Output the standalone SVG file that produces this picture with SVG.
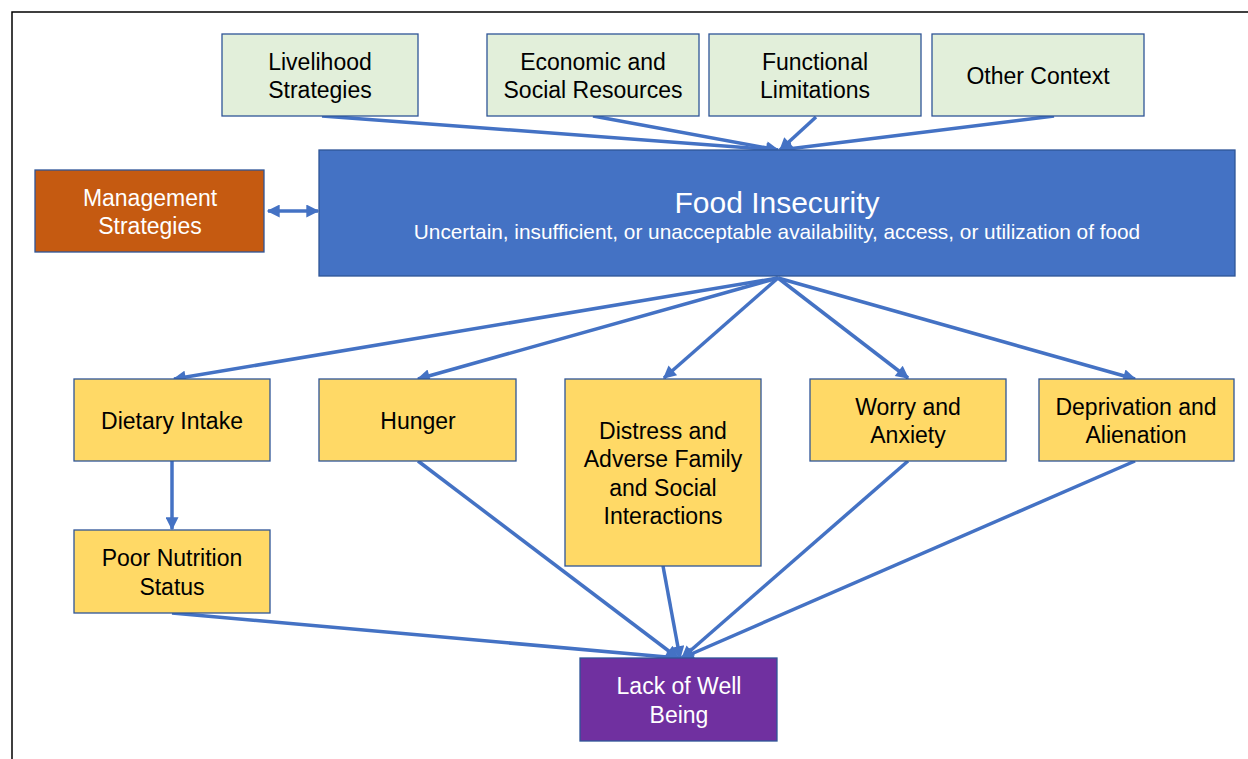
<svg xmlns="http://www.w3.org/2000/svg" width="1248" height="759" viewBox="0 0 1248 759">
  <style>
    .box { stroke: #2F5597; stroke-width: 1.3; }
    .ctx { fill: #E2EFDA; }
    .out { fill: #FFD966; }
    .lbl { font-family: "Liberation Sans", Arial, sans-serif; font-size: 23px; text-anchor: middle; fill: #000; }
    .wht { fill: #fff; }
    .title { font-size: 30px; }
    .sub { font-size: 20.8px; }
    .edge { stroke: #4472C4; stroke-width: 3.5; fill: none; }
  </style>
  <defs>
    <marker id="ah" viewBox="0 0 10 10" refX="9" refY="5" markerUnits="userSpaceOnUse" markerWidth="15" markerHeight="13" orient="auto-start-reverse">
      <path d="M0,0 L10,5 L0,10 z" fill="#4472C4"/>
    </marker>
  </defs>

  <rect width="1248" height="759" fill="#fff"/>
  <!-- page frame -->
  <path d="M12,759 L12,12 L1248,12" fill="none" stroke="#000" stroke-width="1.5"/>

  <!-- connectors -->
  <g id="connectors" class="edge" marker-end="url(#ah)">
    <line x1="322" y1="116" x2="778" y2="150"/>
    <line x1="593" y1="116" x2="778" y2="150"/>
    <line x1="816" y1="117" x2="780" y2="150"/>
    <line x1="1054" y1="116" x2="780" y2="150"/>
    <line x1="268" y1="211" x2="318" y2="211" marker-start="url(#ah)"/>
    <line x1="778" y1="278" x2="174" y2="379"/>
    <line x1="778" y1="278" x2="418" y2="379"/>
    <line x1="778" y1="278" x2="664" y2="378"/>
    <line x1="778" y1="278" x2="908" y2="378"/>
    <line x1="778" y1="278" x2="1135" y2="379"/>
    <line x1="172" y1="461" x2="172" y2="529"/>
    <line x1="172" y1="613" x2="678" y2="658"/>
    <line x1="418" y1="461" x2="678" y2="658"/>
    <line x1="663" y1="566" x2="680" y2="658"/>
    <line x1="908" y1="461" x2="682" y2="658"/>
    <line x1="1135" y1="461" x2="682" y2="658"/>
  </g>

  <g id="livelihood">
    <rect class="box ctx" x="222" y="34" width="196" height="82"/>
    <text class="lbl" x="320" y="70">Livelihood</text>
    <text class="lbl" x="320" y="98">Strategies</text>
  </g>
  <g id="economic">
    <rect class="box ctx" x="487" y="34" width="212" height="82"/>
    <text class="lbl" x="593" y="70">Economic and</text>
    <text class="lbl" x="593" y="98">Social Resources</text>
  </g>
  <g id="functional">
    <rect class="box ctx" x="709" y="34" width="212" height="82"/>
    <text class="lbl" x="815" y="70">Functional</text>
    <text class="lbl" x="815" y="98">Limitations</text>
  </g>
  <g id="other">
    <rect class="box ctx" x="932" y="34" width="212" height="82"/>
    <text class="lbl" x="1038" y="84">Other Context</text>
  </g>

  <g id="food-insecurity">
    <rect class="box" x="319" y="150" width="916" height="126" fill="#4472C4"/>
    <text class="lbl wht title" x="777" y="213">Food Insecurity</text>
    <text class="lbl wht sub" x="777" y="239">Uncertain, insufficient, or unacceptable availability, access, or utilization of food</text>
  </g>

  <g id="management">
    <rect class="box" x="35" y="170" width="229" height="82" fill="#C55A11"/>
    <text class="lbl wht" x="150" y="206">Management</text>
    <text class="lbl wht" x="150" y="234">Strategies</text>
  </g>

  <g id="dietary">
    <rect class="box out" x="74" y="379" width="196" height="82"/>
    <text class="lbl" x="172" y="429">Dietary Intake</text>
  </g>
  <g id="hunger">
    <rect class="box out" x="319" y="379" width="197" height="82"/>
    <text class="lbl" x="418" y="429">Hunger</text>
  </g>
  <g id="distress">
    <rect class="box out" x="565" y="379" width="196" height="187"/>
    <text class="lbl" x="663" y="439">Distress and</text>
    <text class="lbl" x="663" y="467">Adverse Family</text>
    <text class="lbl" x="663" y="496">and Social</text>
    <text class="lbl" x="663" y="524">Interactions</text>
  </g>
  <g id="worry">
    <rect class="box out" x="810" y="379" width="196" height="82"/>
    <text class="lbl" x="908" y="415">Worry and</text>
    <text class="lbl" x="908" y="443">Anxiety</text>
  </g>
  <g id="deprivation">
    <rect class="box out" x="1039" y="379" width="195" height="82"/>
    <text class="lbl" x="1136" y="415">Deprivation and</text>
    <text class="lbl" x="1136" y="443">Alienation</text>
  </g>
  <g id="poor-nutrition">
    <rect class="box out" x="74" y="530" width="196" height="83"/>
    <text class="lbl" x="172" y="566">Poor Nutrition</text>
    <text class="lbl" x="172" y="595">Status</text>
  </g>
  <g id="well-being">
    <rect class="box" x="580" y="658" width="197" height="83" fill="#7030A0"/>
    <text class="lbl wht" x="679" y="694">Lack of Well</text>
    <text class="lbl wht" x="679" y="723">Being</text>
  </g>
</svg>
